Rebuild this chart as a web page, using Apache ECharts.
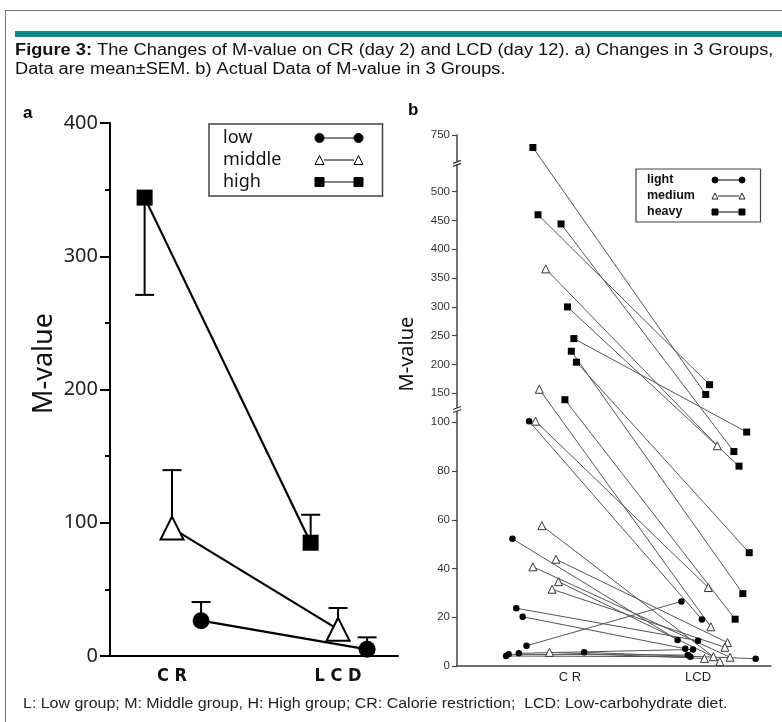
<!DOCTYPE html>
<html>
<head>
<meta charset="utf-8">
<script src="https://cdn.jsdelivr.net/npm/echarts@6/dist/echarts.min.js"></script>
<style>
html,body{margin:0;padding:0;background:#fff;overflow:hidden;}
#frame{position:absolute;left:5px;top:10px;width:800px;height:730px;border:1.5px solid #777;box-sizing:border-box;}
#bar{position:absolute;left:15px;top:31px;width:780px;height:6px;background:#12878c;}
#c{position:absolute;left:0;top:0;width:782px;height:722px;}
</style>
</head>
<body>
<div id="frame"></div>
<div id="bar"></div>
<div id="c"></div>
<script>
// ---------- Panel a: mean ± SEM ----------
const periodsA = ['C R', 'L C D'];
const groupsA = ['low', 'middle', 'high'];
const lowMean = [26.5, 5];
const lowSem = [14, 9];
const middleMean = [96, 20];
const middleSem = [43.5, 16];
const highMean = [344, 85];
const highSem = [73, 21];
const highErrDir = [-1, 1];
const upDir = [1, 1];
const tickValsA = [0, 100, 200, 300, 400];

// ---------- Panel b: individual data ----------
const periodsB = ['C R', 'LCD'];
const groupsB = ['light', 'medium', 'heavy'];
const lightCR = [102, 52.2, 23.7, 20.2, 8.3, 5.2, 4.8, 4.1, 5.6];
const lightLCD = [19.1, 10.7, 10.4, 7.1, 26.5, 6.8, 4.5, 3.8, 3.0];
const lightCRx = [-0.32, -0.45, -0.42, -0.37, -0.34, -0.40, -0.48, -0.50, 0.11];
const lightLCDx = [0.03, -0.16, 0.0, -0.10, -0.13, -0.04, -0.08, -0.06, 0.45];
const mediumCR = [366, 157, 102, 57.6, 43.8, 40.7, 34.6, 31.5, 5.6];
const mediumLCD = [90.4, 16.1, 32.2, 1.8, 9.6, 3.6, 3.8, 7.7, 3.1];
const mediumCRx = [-0.19, -0.24, -0.27, -0.22, -0.11, -0.29, -0.09, -0.14, -0.16];
const mediumLCDx = [0.15, 0.10, 0.08, 0.17, 0.23, 0.25, 0.12, 0.21, 0.05];
const heavyCR = [695, 460, 444, 300, 245, 223, 204, 139];
const heavyLCD = [148, 165, 88, 82, 96, 29.7, 46.5, 19.2];
const heavyCRx = [-0.29, -0.25, -0.07, -0.02, 0.03, 0.01, 0.05, -0.04];
const heavyLCDx = [0.06, 0.09, 0.28, 0.32, 0.38, 0.35, 0.40, 0.29];
const tickValsB = [0, 20, 40, 60, 80, 100, 150, 200, 250, 300, 350, 400, 450, 500, 750];
const breakValsB = [122, 625];

// texts
const captionLine1 = '{b|Figure 3:} The Changes of M-value on CR (day 2) and LCD (day 12). a) Changes in 3 Groups,';
const captionLine2 = 'Data are mean±SEM. b) Actual Data of M-value in 3 Groups.';
const footnote = 'L: Low group; M: Middle group, H: High group; CR: Calorie restriction;  LCD: Low-carbohydrate diet.';

// broken-axis scale for panel b (value -> axis units)
const brk = [[0, 0], [100, 100], [150, 111.9], [500, 194.64], [750, 217.9]];
function fy(v) {
  for (let i = 1; i < brk.length; i++) {
    if (v <= brk[i][0] || i === brk.length - 1) {
      const a = brk[i - 1], b = brk[i];
      return a[1] + (v - a[0]) * (b[1] - a[1]) / (b[0] - a[0]);
    }
  }
}
function labelB(u) {
  let best = null, bd = 1e9;
  tickValsB.forEach(t => { const d = Math.abs(fy(t) - u); if (d < bd) { bd = d; best = t; } });
  return bd < 0.5 ? String(best) : '';
}

const offA = { high: -0.165, middle: 0, low: 0.175 };
function ptsA(mean, o) { return mean.map((m, i) => [i + 1 + o, m]); }
function errA(mean, sem, dir, o) { return mean.map((m, i) => [i + 1 + o, m, m + dir[i] * sem[i]]); }

function errRender(params, api) {
  const x = api.value(0), y = api.value(1), e = api.value(2);
  const p0 = api.coord([x, y]), p1 = api.coord([x, e]);
  const st = { stroke: '#000', lineWidth: 2 };
  return { type: 'group', children: [
    { type: 'line', shape: { x1: p0[0], y1: p0[1], x2: p1[0], y2: p1[1] }, style: st },
    { type: 'line', shape: { x1: p1[0] - 9.5, y1: p1[1], x2: p1[0] + 9.5, y2: p1[1] }, style: st }
  ]};
}
function breakRender(params, api) {
  const p = api.coord([api.value(0), fy(api.value(1))]);
  const st = { stroke: '#333', lineWidth: 1.2 };
  return { type: 'group', children: [
    { type: 'rect', shape: { x: p[0] - 2, y: p[1] - 1.5, width: 4, height: 3 }, style: { fill: '#fff' } },
    { type: 'line', shape: { x1: p[0] - 4, y1: p[1] + 0, x2: p[0] + 4, y2: p[1] - 3 }, style: st },
    { type: 'line', shape: { x1: p[0] - 4, y1: p[1] + 3, x2: p[0] + 4, y2: p[1] + 0 }, style: st }
  ]};
}

function ptsB(cr, lcd, crx, lcdx) {
  return cr.map((v, i) => [1 + crx[i], fy(v)]).concat(lcd.map((v, i) => [2 + lcdx[i], fy(v)]));
}
function segB(cr, lcd, crx, lcdx) {
  return cr.map((v, i) => ({ coords: [[1 + crx[i], fy(v)], [2 + lcdx[i], fy(lcd[i])]] }));
}

function icon(shape, W, s) {
  const r = s / 2;
  function mk(x) {
    if (shape === 'circle') return `M${x},${r}A${r},${r} 0 1,1 ${x + s},${r}A${r},${r} 0 1,1 ${x},${r}Z`;
    if (shape === 'rect') return `M${x},0L${x + s},0L${x + s},${s}L${x},${s}Z`;
    return `M${x},${s}L${x + r},0L${x + s},${s}Z`;
  }
  return 'path://' + mk(0) + ` M${s},${r}L${W - s},${r} ` + mk(W - s);
}

const chart = echarts.init(document.getElementById('c'), null, { renderer: 'canvas' });
const FA = "'Noto Sans', 'Liberation Sans', sans-serif";
const FB = "'Liberation Sans', Arial, sans-serif";

const option = {
  backgroundColor: 'transparent',
  animation: false,
  graphic: [
    { type: 'text', x: 15, y: 41.5, scaleX: 1.14, silent: true,
      style: { text: captionLine1 + '\n' + captionLine2, fontFamily: FB, fontSize: 16, fill: '#111', lineHeight: 19, verticalAlign: 'top',
        rich: { b: { fontFamily: FB, fontSize: 16, fontWeight: 'bold', fill: '#111', lineHeight: 19 } } } },
    { type: 'text', x: 23, y: 695, scaleX: 1.14, silent: true,
      style: { text: footnote, fontFamily: FB, fontSize: 14, fill: '#222', lineHeight: 18, verticalAlign: 'top' } },
    { type: 'text', x: 23, y: 105, silent: true,
      style: { text: 'a', fontFamily: FB, fontSize: 17, fontWeight: 'bold', fill: '#000', verticalAlign: 'top' } },
    { type: 'text', x: 408, y: 102, silent: true,
      style: { text: 'b', fontFamily: FB, fontSize: 17, fontWeight: 'bold', fill: '#000', verticalAlign: 'top' } }
  ],
  legend: [
    {
      orient: 'vertical', left: 209, top: 124, align: 'right',
      data: [
        { name: 'low', icon: icon('circle', 48, 9) },
        { name: 'middle', icon: icon('triangle', 48, 9), itemStyle: { color: '#fff', borderColor: '#000', borderWidth: 1 } },
        { name: 'high', icon: icon('rect', 48, 9) }
      ],
      formatter: n => `{t|${n}}`,
      itemWidth: 48, itemHeight: 9, itemGap: 0,
      itemStyle: { color: '#000', borderColor: '#000', borderWidth: 1 },
      textStyle: { fontFamily: FA, fontSize: 18, color: '#111', lineHeight: 22,
        rich: { t: { fontFamily: FA, fontSize: 18, color: '#111', width: 87, align: 'left', lineHeight: 22 } } },
      padding: [3, 19, 3, 14],
      borderColor: '#444', borderWidth: 1.5, backgroundColor: '#fff',
      selectedMode: false
    },
    {
      orient: 'vertical', left: 636, top: 169, align: 'right',
      data: [
        { name: 'light', icon: icon('circle', 33, 6) },
        { name: 'medium', icon: icon('triangle', 33, 6), itemStyle: { color: '#fff', borderColor: '#222', borderWidth: 1 } },
        { name: 'heavy', icon: icon('rect', 33, 6) }
      ],
      formatter: n => `{t|${n}}`,
      itemWidth: 33, itemHeight: 6, itemGap: 0,
      itemStyle: { color: '#000', borderColor: '#000', borderWidth: 1 },
      textStyle: { fontFamily: FB, fontSize: 12.5, fontWeight: 'bold', color: '#111', lineHeight: 16,
        rich: { t: { fontFamily: FB, fontSize: 12.5, fontWeight: 'bold', color: '#111', width: 60, align: 'left', lineHeight: 16 } } },
      padding: [3, 15, 2, 11],
      borderColor: '#444', borderWidth: 1.2, backgroundColor: '#fff',
      selectedMode: false
    }
  ],
  grid: [
    { left: 110, top: 123, width: 288, height: 533, containLabel: false },
    { left: 457, top: 135, width: 314, height: 531, containLabel: false }
  ],
  xAxis: [
    {
      type: 'value', gridIndex: 0, min: 0.6265, max: 2.361,
      axisLine: { show: true, lineStyle: { color: '#000', width: 2 } },
      axisTick: { show: false }, splitLine: { show: false },
      axisLabel: { customValues: [1, 2], formatter: v => periodsA[Math.round(v) - 1] || '', margin: 11,
        fontFamily: "'Liberation Sans Narrow', 'DejaVu Sans Condensed', 'Liberation Sans', sans-serif",
        fontSize: 18, fontWeight: 'bold', color: '#111' }
    },
    {
      type: 'value', gridIndex: 1, min: 0.117, max: 2.57,
      axisLine: { show: true, lineStyle: { color: '#444', width: 1.5 } },
      axisTick: { show: false }, splitLine: { show: false },
      axisLabel: { customValues: [1, 2], formatter: v => periodsB[Math.round(v) - 1] || '', margin: 5,
        fontFamily: FB, fontSize: 13, color: '#222' }
    }
  ],
  yAxis: [
    {
      type: 'value', gridIndex: 0, min: 0, max: 400, interval: 100,
      name: 'M-value', nameLocation: 'middle', nameGap: 52,
      nameTextStyle: { fontFamily: FA, fontSize: 27, color: '#111', padding: [0, 0, 0, 52] },
      axisLine: { show: true, lineStyle: { color: '#000', width: 2 } },
      axisTick: { show: true, length: 10, lineStyle: { color: '#000', width: 2 } },
      minorTick: { show: true, splitNumber: 2, length: 5, lineStyle: { color: '#000', width: 2 } },
      splitLine: { show: false }, minorSplitLine: { show: false },
      axisLabel: { fontFamily: FA, fontSize: 20, color: '#222', margin: 12 }
    },
    {
      type: 'value', gridIndex: 1, min: 0, max: fy(750),
      name: 'M-value', nameLocation: 'middle', nameGap: 40,
      nameTextStyle: { fontFamily: FA, fontSize: 20, color: '#111', padding: [0, 0, 0, 93] },
      axisLine: { show: true, lineStyle: { color: '#444', width: 1.5 } },
      axisTick: { show: true, length: 5, customValues: tickValsB.map(fy), lineStyle: { color: '#444', width: 1.2 } },
      splitLine: { show: false },
      axisLabel: { customValues: tickValsB.map(fy), formatter: labelB, fontFamily: FB, fontSize: 11.5, color: '#333', margin: 7 }
    }
  ],
  series: [
    // panel a error bars
    { type: 'custom', name: 'errHigh', xAxisIndex: 0, yAxisIndex: 0, renderItem: errRender, data: errA(highMean, highSem, highErrDir, offA.high), z: 1, silent: true },
    { type: 'custom', name: 'errMiddle', xAxisIndex: 0, yAxisIndex: 0, renderItem: errRender, data: errA(middleMean, middleSem, upDir, offA.middle), z: 1, silent: true },
    { type: 'custom', name: 'errLow', xAxisIndex: 0, yAxisIndex: 0, renderItem: errRender, data: errA(lowMean, lowSem, upDir, offA.low), z: 1, silent: true },
    // panel a means
    { type: 'line', name: 'high', xAxisIndex: 0, yAxisIndex: 0, data: ptsA(highMean, offA.high),
      symbol: 'rect', symbolSize: 16, itemStyle: { color: '#000' }, lineStyle: { color: '#000', width: 2.2 }, z: 3 },
    { type: 'line', name: 'middle', xAxisIndex: 0, yAxisIndex: 0, data: ptsA(middleMean, offA.middle),
      symbol: 'triangle', symbolSize: 23, itemStyle: { color: '#fff', borderColor: '#000', borderWidth: 2 }, lineStyle: { color: '#000', width: 2.2 }, z: 3 },
    { type: 'line', name: 'low', xAxisIndex: 0, yAxisIndex: 0, data: ptsA(lowMean, offA.low),
      symbol: 'circle', symbolSize: 17, itemStyle: { color: '#000' }, lineStyle: { color: '#000', width: 2.2 }, z: 3 },
    // panel b connecting lines
    { type: 'lines', coordinateSystem: 'cartesian2d', xAxisIndex: 1, yAxisIndex: 1, data: segB(heavyCR, heavyLCD, heavyCRx, heavyLCDx), lineStyle: { color: '#555', width: 1, opacity: 1 }, silent: true, z: 2 },
    { type: 'lines', coordinateSystem: 'cartesian2d', xAxisIndex: 1, yAxisIndex: 1, data: segB(mediumCR, mediumLCD, mediumCRx, mediumLCDx), lineStyle: { color: '#555', width: 1, opacity: 1 }, silent: true, z: 2 },
    { type: 'lines', coordinateSystem: 'cartesian2d', xAxisIndex: 1, yAxisIndex: 1, data: segB(lightCR, lightLCD, lightCRx, lightLCDx), lineStyle: { color: '#555', width: 1, opacity: 1 }, silent: true, z: 2 },
    // panel b points
    { type: 'scatter', name: 'heavy', xAxisIndex: 1, yAxisIndex: 1, data: ptsB(heavyCR, heavyLCD, heavyCRx, heavyLCDx),
      symbol: 'rect', symbolSize: 7, itemStyle: { color: '#000', opacity: 1 }, z: 3 },
    { type: 'scatter', name: 'medium', xAxisIndex: 1, yAxisIndex: 1, data: ptsB(mediumCR, mediumLCD, mediumCRx, mediumLCDx),
      symbol: 'triangle', symbolSize: 8, itemStyle: { color: '#fff', borderColor: '#333', borderWidth: 1, opacity: 1 }, z: 3 },
    { type: 'scatter', name: 'light', xAxisIndex: 1, yAxisIndex: 1, data: ptsB(lightCR, lightLCD, lightCRx, lightLCDx),
      symbol: 'circle', symbolSize: 6.5, itemStyle: { color: '#000', opacity: 1 }, z: 3 },
    // axis break marks
    { type: 'custom', name: 'breaks', xAxisIndex: 1, yAxisIndex: 1, renderItem: breakRender, data: breakValsB.map(v => [0.117, v]), z: 5, silent: true, clip: false }
  ]
};
chart.setOption(option);
</script>
</body>
</html>
